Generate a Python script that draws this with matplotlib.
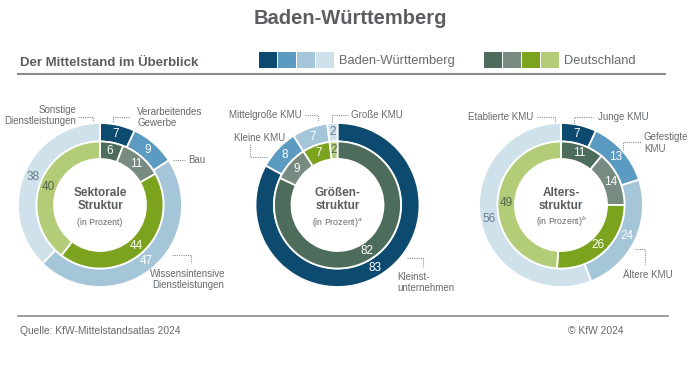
import numpy as np
import matplotlib.pyplot as plt
from matplotlib.patches import Rectangle

plt.rcParams['font.family'] = ['Liberation Sans', 'DejaVu Sans']

# Farben
bw_colors = ['#0d4a6f', '#5b9bc1', '#a5c5d9', '#cfe1eb']
de_colors = ['#4e6c5c', '#778b80', '#7ba31d', '#b3cc78']
bw_text = ['white', 'white', 'white', '#6a7d8b']
de_text = ['white', 'white', 'white', '#56664c']

# Daten (Prozent), im Uhrzeigersinn ab 12 Uhr
sek_bw = [7, 9, 47, 38]
sek_de = [6, 11, 44, 40]
sek_labels = ['Verarbeitendes\nGewerbe', 'Bau', 'Wissensintensive\nDienstleistungen',
              'Sonstige\nDienstleistungen']

gr_bw = [83, 8, 7, 2]
gr_de = [82, 9, 7, 2]
gr_labels = ['Kleinst-\nunternehmen', 'Kleine KMU', 'Mittelgroße KMU', 'Große KMU']

alt_bw = [7, 13, 24, 56]
alt_de = [11, 14, 26, 49]
alt_labels = ['Junge KMU', 'Gefestigte\nKMU', 'Ältere KMU', 'Etablierte KMU']

W, H = 696, 392
GRAY = '#5b5e61'
LGRAY = '#666a6d'

fig = plt.figure(figsize=(W / 100, H / 100), dpi=100)
ax = fig.add_axes([0, 0, 1, 1])


def Y(y):
    # Pixel von oben -> Datenkoordinate
    return H - y


R_OUT, W_OUT = 82, 18.5
R_IN, W_IN = 63.5, 17.5


def donut(cx, cy, outer, inner):
    for vals, cols, tcols, r, w in [(outer, bw_colors, bw_text, R_OUT, W_OUT),
                                    (inner, de_colors, de_text, R_IN, W_IN)]:
        wedges, _ = ax.pie(vals, colors=cols, radius=r, center=(cx, Y(cy)),
                           startangle=90, counterclock=False, frame=True,
                           wedgeprops=dict(width=w, edgecolor='white', linewidth=1.3))
        for wd, v, tc in zip(wedges, vals, tcols):
            th = np.deg2rad((wd.theta1 + wd.theta2) / 2)
            rm = r - w / 2
            ax.text(cx + rm * np.cos(th), Y(cy) + rm * np.sin(th), str(v),
                    ha='center', va='center', fontsize=8.5, color=tc)


def center_text(cx, l1, l2, sup=''):
    ax.text(cx, Y(193), l1, ha='center', va='center', fontsize=8.5,
            fontweight='bold', color=GRAY)
    ax.text(cx, Y(206), l2, ha='center', va='center', fontsize=8.5,
            fontweight='bold', color=GRAY)
    ax.text(cx, Y(222), '(in Prozent)' + sup, ha='center', va='center',
            fontsize=6.3, color=LGRAY)


def callout(text, tx, ty, ha, pts):
    t = ax.text(tx, Y(ty), text, ha=ha, va='center', fontsize=7, color=LGRAY,
                linespacing=1.15)
    ax.plot([p[0] for p in pts], [Y(p[1]) for p in pts], ls=(0, (1, 1)),
            lw=0.8, color='#8a8d90')
    return t


# Donuts
donut(100, 205, sek_bw, sek_de)
donut(337.5, 205, gr_bw, gr_de)
donut(561, 205, alt_bw, alt_de)

center_text(100, 'Sektorale', 'Struktur')
center_text(337.5, 'Größen-', 'struktur', '$^a$')
center_text(561, 'Alters-', 'struktur', '$^b$')

# Beschriftungen links
callout(sek_labels[3], 76, 115.5, 'right', [(78, 117), (93, 117), (93, 122)])
callout(sek_labels[0], 137, 117.5, 'left', [(113, 122), (113, 117), (130, 117)])
callout(sek_labels[1], 188, 160, 'left', [(173, 160), (185, 160)])
t = callout(sek_labels[2], 188, 279.5, 'center', [(172, 255), (191, 255), (191, 263)])
t.set_multialignment('center')

# Beschriftungen Mitte
callout(gr_labels[2], 302, 115, 'right', [(305, 115), (318, 115), (318, 122)])
callout(gr_labels[3], 351, 115, 'left', [(332, 122), (332, 115), (348, 115)])
callout(gr_labels[1], 285, 138, 'right', [(250, 144), (250, 157), (268, 157)])
callout(gr_labels[0], 397, 282.5, 'left', [(407, 258), (423, 258), (423, 267)])

# Beschriftungen rechts
callout(alt_labels[3], 533, 117, 'right', [(537, 117), (555, 117), (555, 122)])
callout(alt_labels[0], 598, 117, 'left', [(574, 123), (574, 117), (593, 117)])
callout(alt_labels[1], 644, 143, 'left', [(623, 150), (623, 142), (641, 142)])
callout(alt_labels[2], 623, 275, 'left', [(635, 249), (645, 249), (645, 264)])

# Kopf
ax.text(350, Y(18), 'Baden-Württemberg', ha='center', va='center',
        fontsize=14.5, fontweight='bold', color=GRAY)
ax.text(20, Y(63), 'Der Mittelstand im Überblick', ha='left', va='center',
        fontsize=9.5, fontweight='bold', color=GRAY)

for x0, cols, lab in [(259, bw_colors, 'Baden-Württemberg'),
                      (484, de_colors, 'Deutschland')]:
    for i, c in enumerate(cols):
        ax.add_patch(Rectangle((x0 + i * 19, Y(68)), 18, 16, color=c, lw=0))
    ax.text(x0 + 4 * 19 + 4, Y(61), lab, ha='left', va='center',
            fontsize=9.3, color=LGRAY)

ax.plot([18, 665], [Y(74), Y(74)], color='#8a8d90', lw=1.5)
ax.plot([18, 668], [Y(316), Y(316)], color='#8a8d90', lw=1.2)

# Fuß
ax.text(20, Y(331), 'Quelle: KfW-Mittelstandsatlas 2024', ha='left',
        va='center', fontsize=7.4, color=LGRAY)
ax.text(623, Y(331), '© KfW 2024', ha='right', va='center', fontsize=7.4,
        color=LGRAY)

ax.set_xlim(0, W)
ax.set_ylim(0, H)
ax.set_aspect('auto')
ax.axis('off')

plt.savefig('out.png', dpi=100)
